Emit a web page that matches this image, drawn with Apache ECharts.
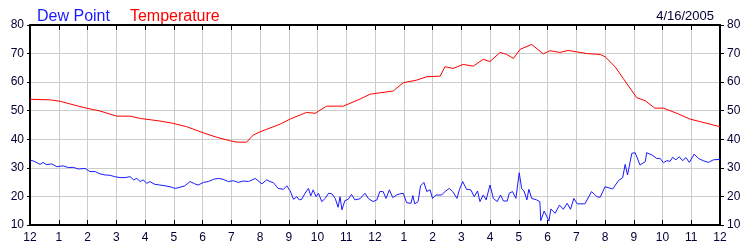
<!DOCTYPE html>
<html><head><meta charset="utf-8">
<script src="https://cdn.jsdelivr.net/npm/echarts@6/dist/echarts.min.js"></script>
<style>html,body{margin:0;padding:0;background:#fff}#c{width:750px;height:250px}</style>
</head><body><div id="c"></div>
<script>
var hourTicks = ['12','1','2','3','4','5','6','7','8','9','10','11','12','1','2','3','4','5','6','7','8','9','10','11','12'];
var yTicks = [10,20,30,40,50,60,70,80];
var dateLabel = '4/16/2005';

var tempMinutes = [0,42,63,83,115,146,181,209,230,271,298,327,361,390,417,432,452,466,480,522,543,577,595,619,654,689,710,758,779,807,828,856,866,883,904,925,946,960,981,995,1009,1023,1047,1071,1085,1106,1123,1141,1162,1190,1200,1221,1238,1266,1284,1304,1322,1350,1377,1398,1419,1440];
var tempValues = [54,53.8,53.3,52.4,51,49.9,48.1,48.1,47.3,46.4,45.6,44.4,42.3,40.7,39.5,39,39,41.5,42.6,45.3,47.1,49.4,49.1,51.6,51.6,54.1,55.8,56.9,59.8,60.7,61.9,62.1,65.4,64.8,66.2,65.6,68,67.2,70.4,69.7,68.3,71.5,73.2,69.9,71,70.4,71.1,70.6,70,69.7,68.9,65.4,61.3,54.6,53.5,50.9,50.9,49.1,47.1,46.2,45.3,44.4];

var dewMinutes = [0,10,21,27,35,45,56,69,80,90,101,115,125,136,146,157,167,177,188,198,209,216,223,230,236,244,250,261,271,282,292,303,313,323,334,344,351,362,372,383,393,403,414,424,435,445,456,470,484,494,501,508,518,529,536,543,550,557,562,567,574,581,586,591,597,602,609,616,623,630,637,643,647,651,657,664,671,678,689,699,706,716,724,730,737,743,750,757,765,772,779,786,795,799,803,810,815,822,828,835,840,847,859,866,875,882,891,896,903,911,920,927,934,939,946,952,960,967,975,982,988,996,1000,1007,1014,1021,1026,1031,1037,1041,1047,1057,1064,1066,1073,1077,1083,1087,1096,1105,1113,1121,1128,1135,1142,1158,1172,1183,1190,1200,1216,1228,1237,1242,1247,1256,1263,1273,1284,1287,1298,1308,1315,1322,1329,1336,1341,1348,1355,1362,1369,1376,1386,1395,1405,1416,1426,1440];
var dewValues = [32.8,32.2,31.2,31.9,31.1,31.4,30.4,30.7,30.1,30.2,29.6,29.8,28.7,28.7,27.9,27.5,27.4,26.9,26.6,26.6,26.9,25.8,26.3,25.2,25.8,24.6,25.2,24.2,24,23.7,23.4,22.8,23.2,23.7,25.2,24.4,24,24.9,25.2,26,26.3,26,25.2,25.5,24.9,25.4,25.2,26.3,24.4,25.8,25.2,24.8,22.8,22.5,23.7,21.9,19,19.9,18.8,19,21.1,22.8,20.2,22.3,19.9,21.1,18.2,19.3,21.1,20.9,19.3,16.2,19.9,15.3,18.5,19,20.7,18.8,19.2,21.1,19.3,18.2,18.8,21.7,21.7,19.3,22.3,19.6,20.5,20.9,21.1,17.8,17.6,20.3,17.4,18.2,23.7,24.9,21.7,22.3,19.3,20.5,20.5,21.7,22.8,21.7,19.3,22.3,25.2,22.5,22.3,19.9,21.9,18.2,20.5,18.8,24,19.3,18.2,20.5,18.4,18.4,21.1,21.7,19.3,28.3,22.8,21.9,18.8,22.5,19.3,18.8,18.2,11.5,14.9,14.7,11.4,15.6,14.1,17,15.5,17.6,15.5,19.3,17.4,17.4,21.7,19.9,19.7,23.4,22.6,25.5,26.6,31.2,27.5,35.1,35.3,31,32.2,35.3,34.5,33.3,33.3,31.8,32.5,32.3,33.7,32.8,33.9,32.5,33.6,31.9,34.8,33.3,32.5,31.9,32.8,33];

function pairs(xs, ys){ return xs.map(function(x,i){ return [x, ys[i]]; }); }
var txt = '#000033';
var font = '"Liberation Sans", Arial, sans-serif';
var chart = echarts.init(document.getElementById('c'), null, {renderer:'canvas'});
var xCommon = {type:'value', min:0, max:1440, interval:60};
var yCommon = {type:'value', min:yTicks[0], max:yTicks[yTicks.length-1], interval:10};
chart.setOption({
  animation:false,
  backgroundColor:'#fff',
  textStyle:{fontFamily:font},
  title:[{
    left:32, top:3,
    text:'{a|Dew Point}    {b|Temperature}',
    textStyle:{fontWeight:'normal', rich:{
      a:{color:'#1a1aff',fontSize:16,fontWeight:'normal',fontFamily:font},
      b:{color:'#ff0000',fontSize:16,fontWeight:'normal',fontFamily:font}}}
  },{
    right:31, top:5, text:dateLabel,
    textStyle:{color:txt,fontSize:13,fontWeight:'normal',fontFamily:font}
  }],
  grid:{left:30, right:30, top:25, bottom:25, containLabel:false},
  xAxis:[Object.assign({}, xCommon, {
    position:'bottom',
    axisLine:{show:true, onZero:false, lineStyle:{color:'#000', width:2}},
    axisTick:{show:true, inside:true, length:5, lineStyle:{color:'#000'}},
    axisLabel:{show:true, margin:7, color:txt, fontSize:12, fontFamily:font, showMinLabel:true, showMaxLabel:true,
      formatter:function(v){ return hourTicks[Math.round(v/60)]; }},
    splitLine:{show:true, lineStyle:{color:'#cccccc', width:1}}
  }), Object.assign({}, xCommon, {
    position:'top',
    axisLine:{show:true, onZero:false, lineStyle:{color:'#000', width:2}},
    axisTick:{show:true, inside:true, length:5, lineStyle:{color:'#000'}},
    axisLabel:{show:false},
    splitLine:{show:false}
  })],
  yAxis:[Object.assign({}, yCommon, {
    position:'left',
    axisLine:{show:true, onZero:false, lineStyle:{color:'#000', width:2}},
    axisTick:{show:true, inside:false, length:3, lineStyle:{color:'#000'}},
    axisLabel:{show:true, margin:6, color:txt, fontSize:12, fontFamily:font, showMinLabel:true, showMaxLabel:true},
    splitLine:{show:true, lineStyle:{color:'#cccccc', width:1}}
  }), Object.assign({}, yCommon, {
    position:'right',
    axisLine:{show:true, onZero:false, lineStyle:{color:'#000', width:2}},
    axisTick:{show:true, inside:false, length:4, lineStyle:{color:'#000'}},
    axisLabel:{show:true, margin:7, color:txt, fontSize:12, fontFamily:font, showMinLabel:true, showMaxLabel:true},
    splitLine:{show:false}
  })],
  series:[{
    name:'Dew Point', type:'line', xAxisIndex:0, yAxisIndex:0, showSymbol:false, symbol:'none',
    lineStyle:{color:'#1a1aff', width:1}, data:pairs(dewMinutes, dewValues)
  },{
    name:'Temperature', type:'line', xAxisIndex:0, yAxisIndex:0, showSymbol:false, symbol:'none',
    lineStyle:{color:'#ff0000', width:1}, data:pairs(tempMinutes, tempValues)
  }]
});
</script></body></html>
